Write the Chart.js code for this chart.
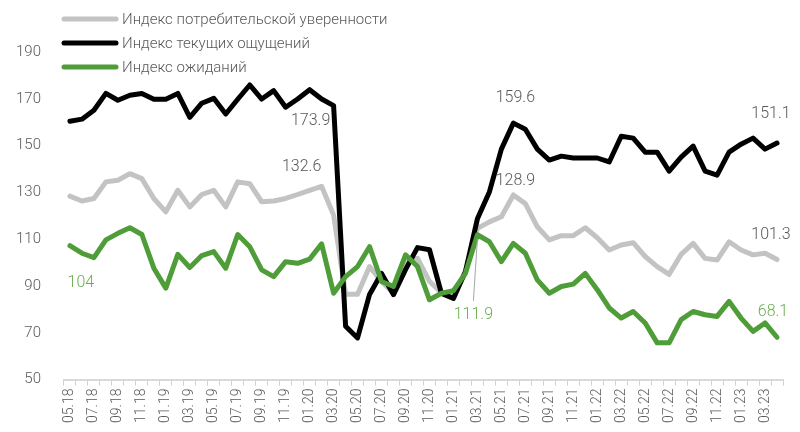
<!DOCTYPE html>
<html>
<head>
<meta charset="utf-8">
<script src="https://cdn.jsdelivr.net/npm/chart.js@4.4.1/dist/chart.umd.min.js"></script>
<style>
  html, body { margin: 0; background: #fff; }
  #wrap { width: 800px; height: 432px; }
</style>
</head>
<body>
<div id="wrap"><canvas id="chart"></canvas></div>
<script>
const months = [
  "05.18", "06.18", "07.18", "08.18", "09.18", "10.18", "11.18", "12.18",
  "01.19", "02.19", "03.19", "04.19", "05.19", "06.19", "07.19", "08.19", "09.19", "10.19", "11.19", "12.19",
  "01.20", "02.20", "03.20", "04.20", "05.20", "06.20", "07.20", "08.20", "09.20", "10.20", "11.20", "12.20",
  "01.21", "02.21", "03.21", "04.21", "05.21", "06.21", "07.21", "08.21", "09.21", "10.21", "11.21", "12.21",
  "01.22", "02.22", "03.22", "04.22", "05.22", "06.22", "07.22", "08.22", "09.22", "10.22", "11.22", "12.22",
  "01.23", "02.23", "03.23", "04.23"
];

const seriesNames = [
  "Индекс потребительской уверенности",
  "Индекс текущих ощущений",
  "Индекс ожиданий"
];

// Индекс потребительской уверенности
const confidence = [
  128.4, 126.3, 127.4, 134.5, 135.2, 138.0, 135.9, 127.4, 121.7, 130.9,
  123.8, 129.1, 130.9, 123.8, 134.5, 133.7, 126.0, 126.3, 127.4, 129.1,
  130.9, 132.6, 120.3, 86.5, 86.5, 98.3, 91.9, 86.9, 99.7, 101.8,
  92.0, 87.0, 87.0, 95.5, 114.6, 117.4, 119.6, 128.9, 125.2, 115.3,
  109.7, 111.5, 111.5, 114.9, 110.6, 105.4, 107.5, 108.5, 102.6, 98.3,
  95.0, 103.5, 108.2, 101.8, 101.1, 108.9, 105.4, 103.3, 104.0, 101.3
];

// Индекс текущих ощущений
const current = [
  160.4, 161.3, 165.1, 172.3, 169.4, 171.5, 172.3, 169.8, 169.8, 172.3,
  162.1, 168.1, 170.2, 163.5, 169.8, 175.9, 169.9, 173.5, 166.4, 169.9,
  173.9, 169.9, 167.1, 72.8, 67.8, 86.4, 95.4, 86.3, 97.0, 106.4,
  105.5, 86.8, 84.7, 96.2, 118.7, 130.2, 148.5, 159.6, 157.0, 148.5,
  143.8, 145.5, 144.7, 144.7, 144.7, 143.0, 154.0, 153.2, 147.2, 147.2,
  139.1, 145.1, 149.8, 139.1, 137.4, 147.2, 150.6, 153.2, 148.5, 151.1
];

// Индекс ожиданий
const expectations = [
  107.2, 104.0, 102.1, 109.7, 112.5, 114.9, 112.0, 97.6, 89.1, 103.5,
  97.9, 103.0, 104.7, 97.6, 112.0, 106.8, 96.9, 94.0, 100.4, 99.7,
  101.5, 108.0, 86.9, 94.0, 98.3, 106.8, 91.9, 89.8, 103.3, 98.3,
  84.1, 86.9, 88.0, 95.4, 111.9, 108.9, 100.4, 108.2, 104.0, 92.6,
  86.9, 89.8, 90.8, 95.4, 88.4, 80.6, 76.3, 79.1, 74.2, 65.7,
  65.7, 75.6, 79.1, 77.7, 77.0, 83.4, 76.3, 70.6, 74.2, 68.1
];

const colors = ["#c3c3c3", "#000000", "#4f9d38"];
const textGray = "#595959";
const textGreen = "#6aad4e";
const fontFamily = "Roboto";

// value labels: dataset, point index, offset from the point, colour
const callouts = [
  { ds: 1, i: 20, dx: 1, dy: 31, color: textGray },
  { ds: 0, i: 21, dx: -20, dy: -19, color: textGray },
  { ds: 1, i: 37, dx: 2, dy: -25, color: textGray },
  { ds: 0, i: 37, dx: 2, dy: -14, color: textGray },
  { ds: 1, i: 59, dx: -6, dy: -29, color: textGray },
  { ds: 0, i: 59, dx: -6, dy: -25, color: textGray },
  { ds: 2, i: 59, dx: -4, dy: -25, color: textGreen },
  { ds: 2, i: 1, dx: -1, dy: 30, color: textGreen },
  { ds: 2, i: 34, dx: -4, dy: 80, color: textGreen, leader: true }
];

const extras = {
  id: "extras",
  afterDatasetsDraw(chart) {
    const ctx = chart.ctx;
    ctx.save();
    ctx.font = "300 16px " + fontFamily;
    ctx.textAlign = "center";
    ctx.textBaseline = "middle";
    callouts.forEach(c => {
      const pt = chart.getDatasetMeta(c.ds).data[c.i];
      const v = chart.data.datasets[c.ds].data[c.i];
      const x = pt.x + c.dx, y = pt.y + c.dy;
      if (c.leader) {
        ctx.strokeStyle = "#a6a6a6";
        ctx.lineWidth = 1;
        ctx.beginPath();
        ctx.moveTo(pt.x, pt.y + 4);
        ctx.lineTo(x, y - 14);
        ctx.stroke();
      }
      ctx.fillStyle = c.color;
      ctx.fillText(String(v), x, y);
    });

    // legend
    ctx.textAlign = "left";
    ctx.font = "300 15px " + fontFamily;
    ctx.lineCap = "round";
    seriesNames.forEach((name, k) => {
      const y = 19 + k * 24;
      ctx.strokeStyle = colors[k];
      ctx.lineWidth = 5;
      ctx.beginPath();
      ctx.moveTo(64, y);
      ctx.lineTo(116, y);
      ctx.stroke();
      ctx.fillStyle = textGray;
      ctx.fillText(name, 122, y + 1);
    });
    ctx.restore();
  }
};

const ds = (label, data, color, order) => ({
  label, data,
  borderColor: color,
  backgroundColor: color,
  borderWidth: 5,
  pointRadius: 0,
  tension: 0,
  borderJoinStyle: "round",
  borderCapStyle: "round",
  order
});

new Chart(document.getElementById("chart"), {
  type: "line",
  data: {
    labels: months,
    datasets: [
      ds(seriesNames[0], confidence, colors[0], 3),
      ds(seriesNames[1], current, colors[1], 2),
      ds(seriesNames[2], expectations, colors[2], 1)
    ]
  },
  options: {
    responsive: true,
    maintainAspectRatio: false,
    animation: false,
    layout: { padding: { top: 52, left: 1, right: 17, bottom: 6 } },
    plugins: { legend: { display: false }, tooltip: { enabled: false } },
    scales: {
      x: {
        offset: true,
        grid: { offset: true, drawOnChartArea: false, drawTicks: true, tickLength: 6, color: "#d0d0d0", lineWidth: 1 },
        border: { color: "#d9d9d9", width: 2 },
        ticks: {
          autoSkip: false,
          maxRotation: 90,
          minRotation: 90,
          padding: 3,
          color: textGray,
          font: { family: fontFamily, size: 14, weight: "300" },
          callback: (v, i) => (i % 2 === 0 ? months[i] : "")
        }
      },
      y: {
        min: 50,
        max: 190,
        grid: { display: false },
        border: { display: false },
        ticks: {
          stepSize: 20,
          padding: 15,
          color: textGray,
          font: { family: fontFamily, size: 15, weight: "300" }
        }
      }
    }
  },
  plugins: [extras]
});
</script>
</body>
</html>
